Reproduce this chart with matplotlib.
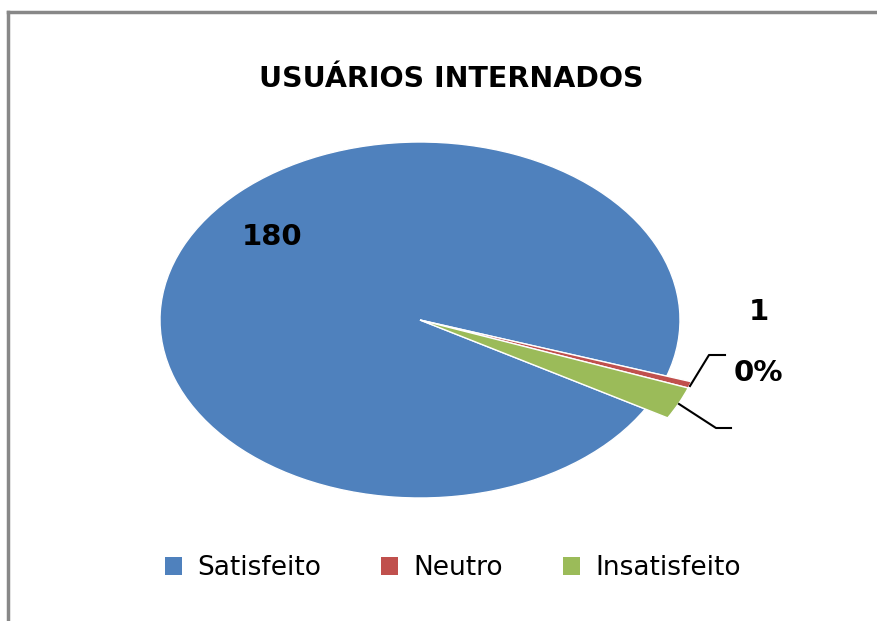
import matplotlib.pyplot as plt
from matplotlib.lines import Line2D
from matplotlib.patches import Patch

# data
categorias = ['Satisfeito', 'Neutro', 'Insatisfeito']
valores = [180, 1, 5]
cores = ['#4F81BD', '#C0504D', '#9BBB59']

fig = plt.figure(figsize=(8.78, 6.21), dpi=100)

# outer frame (top + left edges visible)
fig.add_artist(Line2D([8 / 878, 8 / 878], [0, 1 - 12 / 621], color='#888888', lw=2.5))
fig.add_artist(Line2D([8 / 878, 1], [1 - 12 / 621, 1 - 12 / 621], color='#888888', lw=2.5))

# pie axes sized so the pie is an ellipse like the original
ax = fig.add_axes([160 / 878, 123 / 621, 520 / 878, 356 / 621])
wedges, _ = ax.pie(valores, colors=cores, startangle=-30,
                   counterclock=False, radius=1,
                   wedgeprops=dict(edgecolor='white', linewidth=1))
# small slices stick out past the rim
for w in wedges[1:]:
    w.set_radius(1.1)
ax.set_aspect('auto')
ax.set_xlim(-1, 1)
ax.set_ylim(-1, 1)
ax.axis('off')
for w in wedges:
    w.set_clip_on(False)

# title
fig.text(451 / 878, 1 - 79 / 621, 'USUÁRIOS INTERNADOS', ha='center', va='center',
         fontsize=20.5, fontweight='bold', family='DejaVu Sans')

# data labels
fig.text(272 / 878, 1 - 237 / 621, str(valores[0]), ha='center', va='center',
         fontsize=21, fontweight='bold', family='DejaVu Sans')
fig.text(759 / 878, 1 - 312 / 621, str(valores[1]), ha='center', va='center',
         fontsize=21, fontweight='bold', family='DejaVu Sans')
fig.text(758 / 878, 1 - 373 / 621, '0%', ha='center', va='center',
         fontsize=21, fontweight='bold', family='DejaVu Sans')

# leader lines
def px(x, y):
    return x / 878, 1 - y / 621

for pts in [[(690, 386), (709, 355), (725, 355)], [(679, 404), (716, 428), (731, 428)]]:
    xs = [px(*p)[0] for p in pts]
    ys = [px(*p)[1] for p in pts]
    fig.add_artist(Line2D(xs, ys, color='black', lw=1.5))

# legend
handles = [Patch(facecolor=c, edgecolor='none') for c in cores]
fig.legend(handles, categorias, loc='center', bbox_to_anchor=(453 / 878, 1 - 568 / 621),
           ncol=3, frameon=False, fontsize=19, handlelength=0.65, handleheight=0.65,
           handletextpad=0.6, columnspacing=2.25)

plt.savefig('out.png', dpi=100)
